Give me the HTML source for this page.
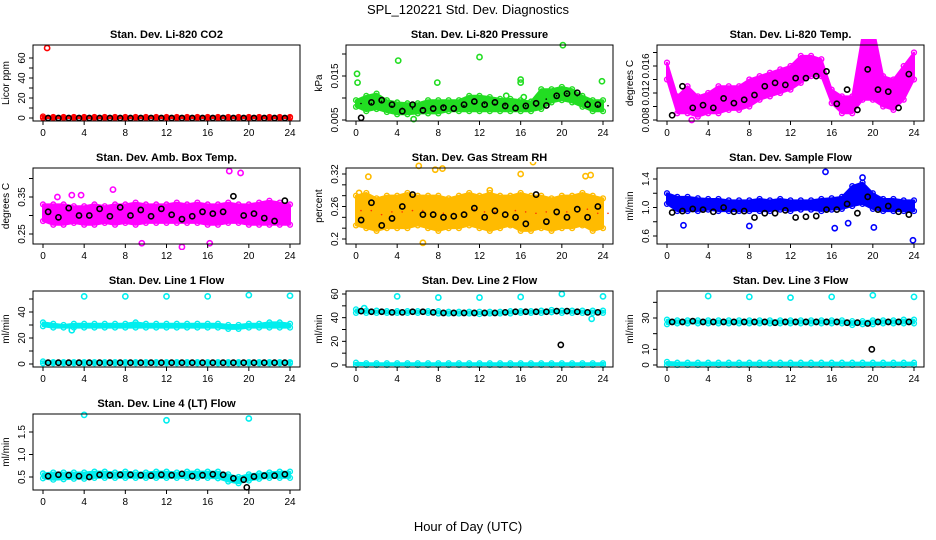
<!DOCTYPE html>
<html><head><meta charset="utf-8"><style>
body{margin:0;background:#fff;}
svg{display:block;font-family:"Liberation Sans",Arial,sans-serif;}
</style></head><body>
<svg id="chart" width="936" height="540" viewBox="0 0 936 540" xmlns="http://www.w3.org/2000/svg">
<text x="468" y="14" text-anchor="middle" font-size="13">SPL_120221  Std. Dev. Diagnostics</text>
<text x="468" y="531" text-anchor="middle" font-size="13">Hour of Day (UTC)</text>
</svg>
<script>
const hrs=[0,1,2,3,4,5,6,7,8,9,10,11,12,13,14,15,16,17,18,19,20,21,22,23,24];
const blackHrs=[0.5,1.5,2.5,3.5,4.5,5.5,6.5,7.5,8.5,9.5,10.5,11.5,12.5,13.5,14.5,15.5,16.5,17.5,18.5,19.5,20.5,21.5,22.5,23.5];
const xTicks=[0,4,8,12,16,20,24];

// Panel 1 CO2
const p1Lo=[0,0,0,0,0,0,0,0,0,0,0,0,0,0,0,0,0,0,0,0,0,0,0,0,0];
const p1Hi=[1.5,1,1,1,1,1,1,1,1,1,1,1,1,1,1,1,1,1,1,1,1,1,1,1,1];
const p1Black=[0,0,0,0,0,0,0,0,0,0,0,0,0,0,0,0,0,0,0,0,0,0,0,0];
const p1OutX=[0.4];
const p1OutY=[70];
// Panel 2 Pressure
const p2Lo=[0.008,0.007,0.0075,0.0068,0.0063,0.0063,0.0065,0.0065,0.0065,0.007,0.007,0.007,0.007,0.007,0.007,0.007,0.007,0.007,0.0075,0.009,0.0095,0.009,0.008,0.007,0.007];
const p2Hi=[0.0095,0.0105,0.011,0.0095,0.009,0.0088,0.0088,0.0095,0.0095,0.0095,0.0095,0.0105,0.0105,0.0102,0.0098,0.0098,0.0095,0.0092,0.012,0.012,0.0125,0.012,0.0105,0.0095,0.0095];
const p2Black=[0.0055,0.009,0.0095,0.0085,0.007,0.0085,0.0072,0.0076,0.0078,0.0076,0.0085,0.0092,0.0085,0.009,0.0082,0.0077,0.0082,0.0088,0.0083,0.0105,0.011,0.0112,0.0085,0.0085];
const p2OutX=[0.1,0.15,4.1,12,20.1,16,16,7.9,23.9,5.6,14.6,16.3];
const p2OutY=[0.0155,0.0135,0.0185,0.0193,0.022,0.0142,0.0135,0.0135,0.0138,0.0052,0.0105,0.0102];
// Panel 3 Li-820 Temp
const p3Lo=[0.014,0.009,0.009,0.0085,0.009,0.009,0.0095,0.0095,0.01,0.011,0.0115,0.012,0.0125,0.0135,0.0145,0.0145,0.0105,0.009,0.009,0.011,0.011,0.01,0.0095,0.011,0.014];
const p3Hi=[0.0165,0.0115,0.013,0.0115,0.012,0.013,0.013,0.013,0.014,0.0145,0.015,0.0155,0.016,0.0175,0.0175,0.017,0.0125,0.0115,0.0115,0.0205,0.022,0.0145,0.014,0.016,0.018];
const p3Black=[0.0087,0.013,0.0098,0.0102,0.0098,0.0112,0.0105,0.011,0.0117,0.013,0.0135,0.0132,0.0142,0.0142,0.0145,0.0152,0.0104,0.0125,0.0095,0.0155,0.0125,0.0122,0.0098,0.0148];
const p3OutX=[2.4,18.8,19.9,13.3];
const p3OutY=[0.008,0.0215,0.021,0.0165];
// Panel 4 Ambient box temp
const p4Lo=[0.285,0.275,0.275,0.28,0.275,0.275,0.28,0.275,0.28,0.275,0.28,0.28,0.28,0.28,0.28,0.28,0.275,0.275,0.28,0.28,0.275,0.275,0.275,0.275,0.275];
const p4Hi=[0.33,0.33,0.33,0.325,0.325,0.33,0.325,0.33,0.33,0.335,0.33,0.33,0.33,0.335,0.33,0.335,0.33,0.33,0.335,0.33,0.33,0.335,0.34,0.335,0.33];
const p4Black=[0.31,0.295,0.32,0.3,0.3,0.318,0.298,0.322,0.3,0.315,0.298,0.318,0.302,0.29,0.298,0.31,0.305,0.31,0.352,0.3,0.305,0.293,0.285,0.34];
const p4OutX=[18.1,19.2,13.5,9.6,16.2,2.8,3.7,6.8,1.4];
const p4OutY=[0.42,0.415,0.215,0.225,0.225,0.355,0.355,0.37,0.35];
// Panel 5 Gas stream RH
const p5Lo=[0.225,0.22,0.215,0.22,0.22,0.22,0.225,0.22,0.215,0.22,0.22,0.225,0.22,0.215,0.22,0.225,0.215,0.215,0.22,0.215,0.22,0.22,0.225,0.215,0.22];
const p5Hi=[0.28,0.285,0.275,0.28,0.28,0.285,0.28,0.28,0.28,0.275,0.28,0.285,0.28,0.285,0.28,0.28,0.285,0.28,0.28,0.275,0.28,0.28,0.285,0.28,0.275];
const p5Black=[0.235,0.267,0.225,0.238,0.26,0.282,0.245,0.245,0.24,0.242,0.245,0.257,0.24,0.252,0.245,0.24,0.228,0.282,0.232,0.25,0.24,0.255,0.24,0.26];
const p5OutX=[6.1,1.2,6.5,17.2,16,22.3,22.8,13,0.3,8.4,7.7];
const p5OutY=[0.335,0.315,0.193,0.342,0.32,0.316,0.318,0.29,0.285,0.33,0.328];
// Panel 6 Sample flow
const p6Lo=[1.05,0.95,0.95,0.95,0.97,0.95,0.95,0.95,0.95,0.95,0.95,0.97,0.95,0.97,0.97,0.95,0.97,0.98,1.02,1.05,0.98,0.95,0.95,0.95,0.95];
const p6Hi=[1.2,1.15,1.15,1.13,1.12,1.12,1.1,1.1,1.1,1.12,1.1,1.12,1.1,1.1,1.1,1.12,1.13,1.15,1.3,1.35,1.2,1.12,1.12,1.1,1.1];
const p6Black=[0.93,0.95,0.98,0.97,0.94,1.0,0.94,0.95,0.86,0.92,0.92,0.96,0.86,0.87,0.88,0.97,0.97,1.05,0.92,1.15,0.97,1.02,0.94,0.9];
const p6OutX=[15.4,19,23.9,16.3,20.1,8,1.6,17.6,18.2];
const p6OutY=[1.5,1.42,0.54,0.71,0.72,0.74,0.75,0.78,1.2];
// Panel 7 Line 1 flow
const p7Lo=[29,28,28,28,28,28,28,28,28,28,28,28,28,28,28,28,28,28,27,27,28,28,28,28,28];
const p7Hi=[32,31,30,31,31,31,31,31,31,32,31,31,31,31,31,31,31,31,30,30,31,31,32,32,31];
const p7LoB=[0.5,0.5,0.5,0.5,0.5,0.5,0.5,0.5,0.5,0.5,0.5,0.5,0.5,0.5,0.5,0.5,0.5,0.5,0.5,0.5,0.5,0.5,0.5,0.5,0.5];
const p7HiB=[2,1.5,1.5,1.5,1.5,1.5,1.5,1.5,1.5,1.5,1.5,1.5,1.5,1.5,1.5,1.5,1.5,1.5,1.5,1.5,1.5,1.5,1.5,1.5,1.5];
const p7Black=[1,1,1,1,1,1,1,1,1,1,1,1,1,1,1,1,1,1,1,1,1,1,1,1];
const p7OutX=[4,8,12,16,20,24,2.8];
const p7OutY=[52,52,52,52,53,52.5,26];
// Panel 8 Line 2 flow
const p8Lo=[44,44,44,44,44,44,44,44,43.5,43.5,43.5,43.5,43,43.5,43.5,43.5,44,44,44,44.5,44,44,44,44,44];
const p8Hi=[47,46,46,45.5,45.5,45.5,45.5,45.5,45.5,45,45,45,45,45,45,45.5,45.5,45.5,46,46.5,46,46,46,46,46];
const p8LoB=[0,0,0,0,0,0,0,0,0,0,0,0,0,0,0,0,0,0,0,0,0,0,0,0,0];
const p8HiB=[2,1.5,1.5,1.5,1.5,1.5,1.5,1.5,1.5,1.5,1.5,1.5,1.5,1.5,1.5,1.5,1.5,1.5,1.5,1.5,1.5,1.5,1.5,1.5,1.5];
const p8Black=[45.5,45,45,44.5,44.5,45,45,44.5,44,44,44,44,44,44,44.5,45,45,45,45,45.5,45.5,45,44.5,44.5];
const p8OutX=[4,8,12,16,20,24,0.8,22.9,19.9];
const p8OutY=[58,57,57,57.5,60,58,48,39,17];
// Panel 9 Line 3 flow
const p9Lo=[26,26.5,26.5,26.5,26.5,26.5,26.5,26.5,26.5,26.5,26.5,26.5,26.5,26.5,26.5,26.5,26.5,26.5,25.5,26,26,26.5,26.5,26.5,26.5];
const p9Hi=[29,28.5,28.5,28.5,28.5,28.5,28.5,28.5,28.5,28.5,28.5,28.5,28.5,28.5,28.5,28.5,28.5,28.5,28,28,28.5,28.5,28.5,29,29];
const p9LoB=[0,0,0,0,0,0,0,0,0,0,0,0,0,0,0,0,0,0,0,0,0,0,0,0,0];
const p9HiB=[2,1.5,1.5,1.5,1.5,1.5,1.5,1.5,1.5,1.5,1.5,1.5,1.5,1.5,1.5,1.5,1.5,1.5,1.5,1.5,1.5,1.5,1.5,1.5,1.5];
const p9Black=[27.5,27.5,28,27.5,27.5,27.5,27.5,27.5,27.5,27.5,27,27.5,27.5,27.5,27.5,27.5,27.5,27,27,26.5,27.5,27.5,27.5,27.5];
const p9OutX=[4,8,12,16,20,24,19.9];
const p9OutY=[44,43.5,43,43.5,44.5,43.5,10];
// Panel 10 Line 4 flow
const p10Lo=[0.47,0.44,0.45,0.46,0.46,0.48,0.48,0.48,0.48,0.48,0.48,0.48,0.48,0.48,0.48,0.48,0.48,0.47,0.4,0.36,0.42,0.46,0.48,0.48,0.48];
const p10Hi=[0.58,0.6,0.6,0.6,0.6,0.62,0.62,0.6,0.62,0.6,0.6,0.62,0.62,0.6,0.62,0.62,0.62,0.62,0.56,0.5,0.56,0.58,0.6,0.62,0.62];
const p10Black=[0.52,0.55,0.54,0.52,0.5,0.55,0.54,0.55,0.55,0.54,0.53,0.55,0.54,0.57,0.52,0.54,0.56,0.55,0.47,0.44,0.51,0.53,0.53,0.56];
const p10OutX=[4,12,20,19.8];
const p10OutY=[1.88,1.76,1.8,0.27];

const panels=[
 {n:"li820-co2",title:"Stan. Dev. Li-820 CO2",yl:"Licor ppm",left:33,top:45,v0:0,p0:118,v1:60,p1:58,ticks:[0,10,20,30,40,50,60],labs:[0,20,40,60],col:"#ff0000",bands:[[p1Lo,p1Hi]],black:p1Black,ox:p1OutX,oy:p1OutY},
 {n:"li820-pressure",title:"Stan. Dev. Li-820 Pressure",yl:"kPa",left:346,top:45,v0:0.005,p0:120,v1:0.02,p1:54,ticks:[0.005,0.01,0.015,0.02],labs:[0.005,0.015],col:"#22dd22",bands:[[p2Lo,p2Hi]],black:p2Black,ox:p2OutX,oy:p2OutY,dots:true},
 {n:"li820-temp",title:"Stan. Dev. Li-820 Temp.",yl:"degrees C",left:657,top:45,v0:0.008,p0:120,v1:0.016,p1:66,ticks:[0.008,0.01,0.012,0.014,0.016,0.018],labs:[0.008,0.012,0.016],col:"#ff00ff",bands:[[p3Lo,p3Hi]],black:p3Black,ox:p3OutX,oy:p3OutY},
 {n:"amb-box-temp",title:"Stan. Dev. Amb. Box Temp.",yl:"degrees C",left:33,top:168,v0:0.25,p0:234,v1:0.35,p1:197,ticks:[0.25,0.3,0.35,0.4],labs:[0.25,0.35],col:"#ff00ff",bands:[[p4Lo,p4Hi]],black:p4Black,ox:p4OutX,oy:p4OutY},
 {n:"gas-stream-rh",title:"Stan. Dev. Gas Stream RH",yl:"percent",left:346,top:168,v0:0.2,p0:239,v1:0.32,p1:174,ticks:[0.2,0.22,0.24,0.26,0.28,0.3,0.32,0.34],labs:[0.2,0.26,0.32],col:"#ffbb00",bands:[[p5Lo,p5Hi]],black:p5Black,ox:p5OutX,oy:p5OutY,dots:true,dotc:"#ff3300"},
 {n:"sample-flow",title:"Stan. Dev. Sample Flow",yl:"ml/min",left:657,top:168,v0:0.6,p0:236,v1:1.4,p1:179,ticks:[0.6,0.8,1.0,1.2,1.4],labs:[0.6,1.0,1.4],col:"#0000ff",bands:[[p6Lo,p6Hi]],black:p6Black,ox:p6OutX,oy:p6OutY},
 {n:"line1-flow",title:"Stan. Dev. Line 1 Flow",yl:"ml/min",left:33,top:291,v0:0,p0:364,v1:40,p1:312,ticks:[0,10,20,30,40,50],labs:[0,20,40],col:"#00eeee",bands:[[p7Lo,p7Hi],[p7LoB,p7HiB]],black:p7Black,ox:p7OutX,oy:p7OutY},
 {n:"line2-flow",title:"Stan. Dev. Line 2 Flow",yl:"ml/min",left:346,top:291,v0:0,p0:365,v1:60,p1:294,ticks:[0,10,20,30,40,50,60],labs:[0,20,40,60],col:"#00eeee",bands:[[p8Lo,p8Hi],[p8LoB,p8HiB]],black:p8Black,ox:p8OutX,oy:p8OutY,blackOutIdx:[8]},
 {n:"line3-flow",title:"Stan. Dev. Line 3 Flow",yl:"ml/min",left:657,top:291,v0:0,p0:365,v1:30,p1:318,ticks:[0,10,20,30,40],labs:[0,10,30],col:"#00eeee",bands:[[p9Lo,p9Hi],[p9LoB,p9HiB]],black:p9Black,ox:p9OutX,oy:p9OutY,blackOutIdx:[6]},
 {n:"line4-flow",title:"Stan. Dev. Line 4 (LT) Flow",yl:"ml/min",left:33,top:414,v0:0.5,p0:477,v1:1.5,p1:432,ticks:[0.5,1.0,1.5],labs:[0.5,1.0,1.5],col:"#00eeee",bands:[[p10Lo,p10Hi]],black:p10Black,ox:p10OutX,oy:p10OutY,blackOutIdx:[3]}
];

const svg=document.getElementById('chart');
const NS="http://www.w3.org/2000/svg";
const W=267,H=76;
function mk(tag,attrs,parent){const e=document.createElementNS(NS,tag);for(const k in attrs)e.setAttribute(k,attrs[k]);parent.appendChild(e);return e;}
function fmt(v){let s=String(+v.toFixed(4));if(s==="1")s="1.0";return s;}

panels.forEach(p=>{
 const g=mk('g',{},svg);
 
 
 const xs=h=>p.left+10+h*(247/24);
 const ys=v=>p.p0+(v-p.v0)*(p.p1-p.p0)/(p.v1-p.v0);
 const ttl=mk('text',{x:p.left+W/2,y:p.top-7,'text-anchor':'middle','font-size':11,'font-weight':'bold'},g);
 ttl.textContent=p.title;
 
 
 const cl=mk('clipPath',{id:'c'+p.n},g);
 mk('rect',{x:p.left,y:p.top-6,width:W,height:H+12},cl);
 const dg=mk('g',{'clip-path':'url(#c'+p.n+')'},g);
 p.bands.forEach(b=>{
  const lo=b[0],hi=b[1];
  let pts=hrs.map((h,i)=>xs(h)+','+ys(hi[i]));
  pts=pts.concat(hrs.map((h,i)=>xs(h)+','+ys(lo[i])).reverse());
  const poly=mk('polygon',{points:pts.join(' '),fill:p.col,stroke:p.col,'stroke-width':2,'stroke-linejoin':'round'},dg);
  
  
  hrs.forEach((h,i)=>{
   [lo[i],hi[i]].forEach(v=>{
    const c=mk('circle',{cx:xs(h),cy:ys(v),r:2.4,fill:'none',stroke:p.col,'stroke-width':1.4},dg);
    
    
   });
   if(p.dots){
    const d=mk('circle',{cx:xs(h)+5,cy:(ys(lo[i])+ys(hi[i]))/2,r:0.8,fill:p.dotc||'#000'},dg);
    
    
   }
  });
 });
 p.ox.forEach((x,i)=>{
  const isB=(p.blackOutIdx||[]).indexOf(i)>=0;
  const c=mk('circle',{cx:xs(x),cy:ys(p.oy[i]),r:2.6,fill:'none',stroke:isB?'#000':p.col,'stroke-width':1.6},dg);
  
  
 });
 blackHrs.forEach((h,i)=>{
  const c=mk('circle',{cx:xs(h),cy:ys(p.black[i]),r:2.6,fill:'none',stroke:'#000','stroke-width':1.6},dg);
  
  
 });
 const box=mk('rect',{x:p.left,y:p.top,width:W,height:H,fill:'none',stroke:'#000','stroke-width':1},g);
 
 
 const xa=mk('g',{},g);
 
 
 xTicks.forEach(t=>{
  mk('line',{x1:xs(t),x2:xs(t),y1:p.top+H,y2:p.top+H+4,stroke:'#000'},xa);
  const tx=mk('text',{x:xs(t),y:p.top+H+15,'text-anchor':'middle','font-size':10},xa);
  tx.textContent=t;
 });
 const ya=mk('g',{},g);
 
 
 p.ticks.forEach(t=>{
  if(ys(t)<p.top-0.5)return;
  mk('line',{x1:p.left-4,x2:p.left,y1:ys(t),y2:ys(t),stroke:'#000'},ya);
 });
 p.labs.forEach(t=>{
  const tx=mk('text',{x:p.left-8,y:ys(t),'text-anchor':'middle','font-size':10,transform:'rotate(-90 '+(p.left-8)+' '+ys(t)+')'},ya);
  tx.textContent=fmt(t);
 });
 const yl=mk('text',{x:p.left-24,y:p.top+H/2,'text-anchor':'middle','font-size':10,transform:'rotate(-90 '+(p.left-24)+' '+(p.top+H/2)+')'},g);
 yl.textContent=p.yl;
 
 
});
</script>
</body></html>
